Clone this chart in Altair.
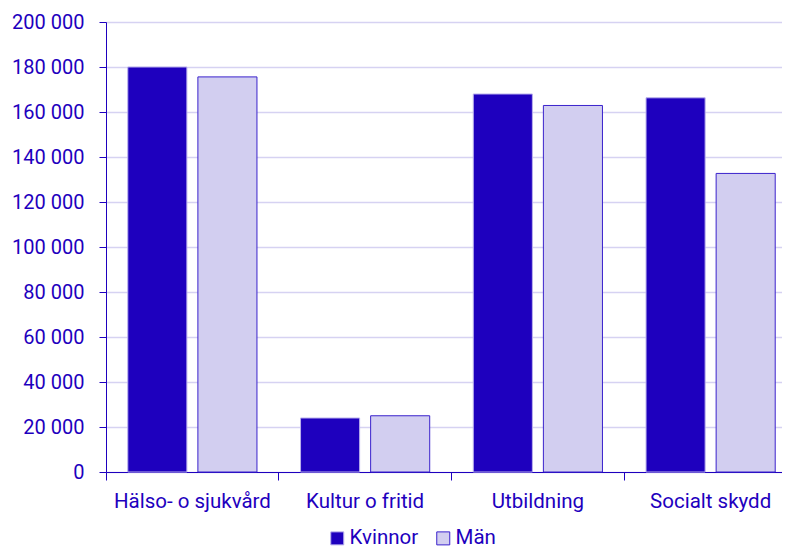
import altair as alt
import pandas as pd

categories = ["Hälso- o sjukvård", "Kultur o fritid", "Utbildning", "Socialt skydd"]
kvinnor = [180000, 24000, 168000, 166300]
man = [175600, 25000, 162900, 132700]
series = ["Kvinnor", "Män"]
y_ticks = [0, 20000, 40000, 60000, 80000, 100000, 120000, 140000, 160000, 180000, 200000]

rows = []
for c, k, m in zip(categories, kvinnor, man):
    rows.append({"kategori": c, "kon": "Kvinnor", "antal": k})
    rows.append({"kategori": c, "kon": "Män", "antal": m})
df = pd.DataFrame(rows)

DARK = "#1E00BE"
LIGHT = "#D2CEF0"
GRID = "#D6D2F2"
FONT = "Roboto"

chart = alt.Chart(df).mark_bar(strokeWidth=1).encode(
    x=alt.X("kategori:N", sort=categories, title=None,
            scale=alt.Scale(paddingInner=0, paddingOuter=0),
            axis=alt.Axis(labelAngle=0, bandPosition=0, tickSize=8, labelPadding=11,
                          domainColor=DARK, tickColor=DARK, labelColor=DARK,
                          labelFont=FONT, labelFontSize=20.5, grid=False)),
    xOffset=alt.XOffset("kon:N", sort=series,
                        scale=alt.Scale(paddingInner=0.157, paddingOuter=0.311)),
    y=alt.Y("antal:Q", title=None,
            scale=alt.Scale(domain=[0, 200000], nice=False),
            axis=alt.Axis(values=y_ticks, tickSize=7, labelPadding=15,
                          labelExpr="replace(format(datum.value, ','), ',', ' ')",
                          domainColor=DARK, tickColor=DARK, labelColor=DARK,
                          labelFont=FONT, labelFontSize=20,
                          grid=True, gridColor=GRID, gridWidth=1.5)),
    fill=alt.Fill("kon:N", sort=series, title=None,
                  scale=alt.Scale(domain=series, range=[DARK, LIGHT]),
                  legend=alt.Legend(orient="none", direction="horizontal",
                                    legendX=221, legendY=506,
                                    symbolType="square", symbolSize=169,
                                    symbolStrokeWidth=1,
                                    labelFont=FONT, labelFontSize=20.5, labelColor=DARK,
                                    columnPadding=14, labelOffset=2)),
    stroke=alt.Stroke("kon:N", sort=series, title=None,
                      scale=alt.Scale(domain=series, range=["#B9B0EC", "#3A22CC"])),
).properties(
    width=691, height=450,
    padding={"left": 98, "top": 14, "right": -15, "bottom": 78},
    autosize=alt.AutoSizeParams(type="none"),
).configure_view(stroke=None).configure(background="white")

chart.save("out.html", embed_options={"renderer": "svg", "actions": False})
